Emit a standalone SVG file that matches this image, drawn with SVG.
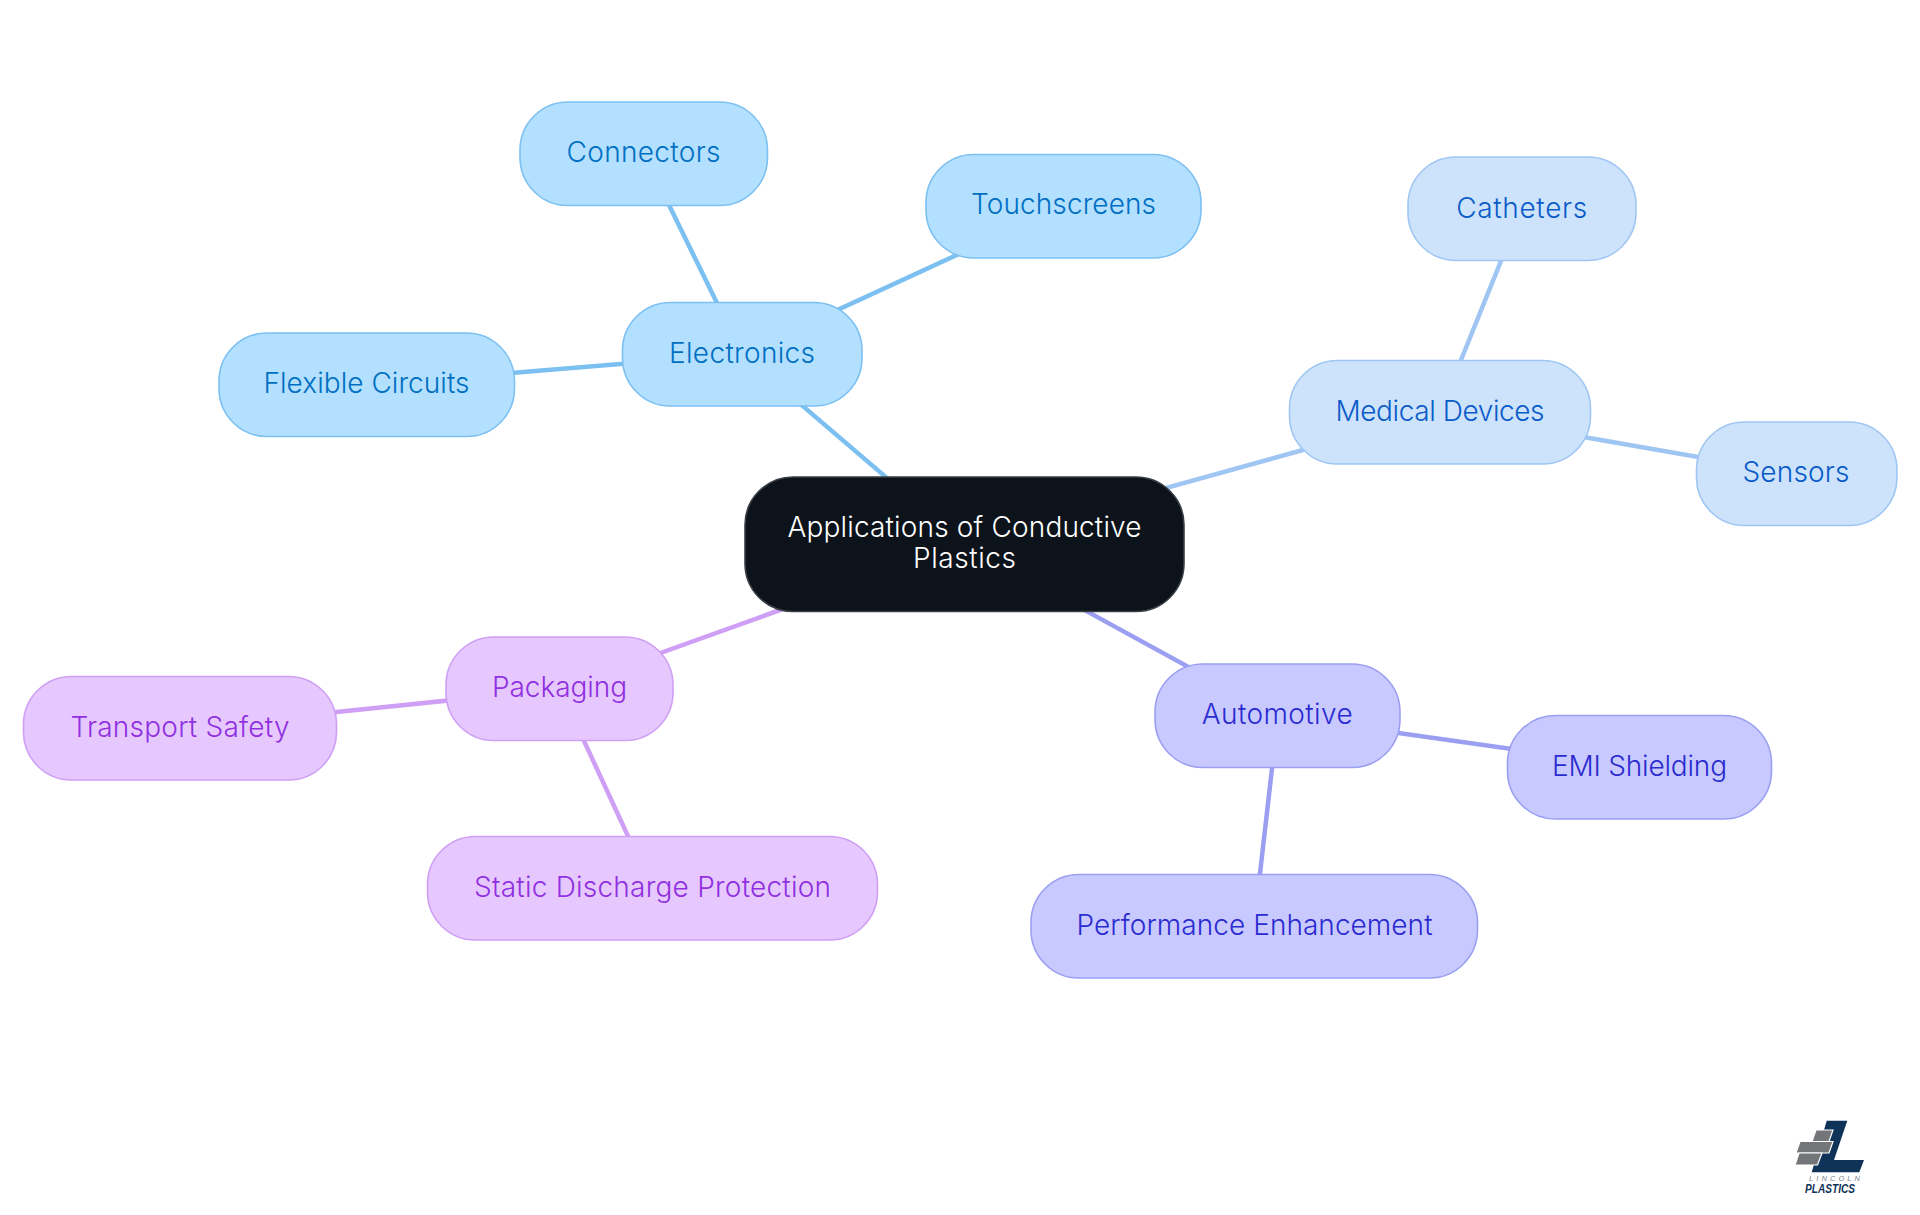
<svg xmlns="http://www.w3.org/2000/svg" width="1920" height="1215" viewBox="0 0 1920 1215">
<style>
text{font-family:"Inter","Noto Sans","Liberation Sans",sans-serif;font-size:28px;font-weight:300;text-anchor:middle}
rect{stroke-width:1.6}
.c line{stroke-width:4.500;fill:none}
.e rect{fill:#b3e0ff;stroke:#7cc0f2}.e text{fill:#006fc2}
.m rect{fill:#cde3fc;stroke:#9fc6f3}.m text{fill:#0a5bc8}
.a rect{fill:#c8caff;stroke:#9b9ff2}.a text{fill:#2b2bd0}
.p rect{fill:#e6c8ff;stroke:#cf9ff5}.p text{fill:#9030e0}
</style>
<rect width="1920" height="1215" fill="#fff" stroke="none"/>
<g id="connectors" class="c">
<g stroke="#7cc0f2"><line x1="742" y1="354" x2="964" y2="544"/><line x1="644" y1="154" x2="742" y2="354"/><line x1="1063" y1="206" x2="742" y2="354"/><line x1="366" y1="385" x2="742" y2="354"/></g>
<g stroke="#9fc6f3"><line x1="1440" y1="412" x2="964" y2="544"/><line x1="1522" y1="209" x2="1440" y2="412"/><line x1="1796" y1="474" x2="1440" y2="412"/></g>
<g stroke="#9b9ff2"><line x1="1278" y1="716" x2="964" y2="544"/><line x1="1639" y1="767" x2="1278" y2="716"/><line x1="1254" y1="926" x2="1278" y2="716"/></g>
<g stroke="#cf9ff5"><line x1="560" y1="689" x2="964" y2="544"/><line x1="180" y1="728" x2="560" y2="689"/><line x1="652" y1="888" x2="560" y2="689"/></g>
</g>
<g id="root"><rect x="745" y="477" width="439" height="134.500" rx="48" fill="#0d131b" stroke="#3a3f45"/><text x="964.500" y="537" fill="#fff" textLength="354">Applications of Conductive</text><text x="964.500" y="568" fill="#fff" textLength="103">Plastics</text></g>
<g id="electronics" class="e"><rect x="622.500" y="302.500" width="239.500" height="103.500" rx="48"/><text x="742" y="362.700" textLength="146">Electronics</text></g>
<g id="connectors-node" class="e"><rect x="520" y="102" width="247.500" height="103.500" rx="48"/><text x="643.500" y="162.200" textLength="154">Connectors</text></g>
<g id="touchscreens" class="e"><rect x="926" y="154.500" width="275" height="103.500" rx="48"/><text x="1063.500" y="214.200" textLength="185">Touchscreens</text></g>
<g id="flexible-circuits" class="e"><rect x="219" y="333" width="295.500" height="103.500" rx="48"/><text x="366.500" y="393.200" textLength="206">Flexible Circuits</text></g>
<g id="medical-devices" class="m"><rect x="1289.500" y="360.500" width="301" height="103.500" rx="48"/><text x="1440" y="421" textLength="209">Medical Devices</text></g>
<g id="catheters" class="m"><rect x="1408" y="157" width="228" height="103.500" rx="48"/><text x="1521.700" y="217.500" textLength="131">Catheters</text></g>
<g id="sensors" class="m"><rect x="1696.500" y="422" width="200.500" height="103.500" rx="48"/><text x="1796" y="482.200" textLength="107">Sensors</text></g>
<g id="automotive" class="a"><rect x="1155" y="664" width="245" height="103.500" rx="48"/><text x="1277.200" y="724.200" textLength="151">Automotive</text></g>
<g id="emi-shielding" class="a"><rect x="1507.500" y="715.500" width="264" height="103.500" rx="48"/><text x="1639.500" y="775.700" textLength="175">EMI Shielding</text></g>
<g id="performance-enhancement" class="a"><rect x="1031" y="874.500" width="446.500" height="103.500" rx="48"/><text x="1254.500" y="934.500" textLength="356">Performance Enhancement</text></g>
<g id="packaging" class="p"><rect x="446" y="637" width="227" height="103.500" rx="48"/><text x="559.500" y="697.200" textLength="135">Packaging</text></g>
<g id="transport-safety" class="p"><rect x="23.500" y="676.500" width="313" height="103.500" rx="48"/><text x="180" y="736.700" textLength="219">Transport Safety</text></g>
<g id="static-discharge-protection" class="p"><rect x="427.500" y="836.500" width="450" height="103.500" rx="48"/><text x="652.500" y="896.700" textLength="357">Static Discharge Protection</text></g>
<g id="logo">
<polygon points="1826.700,1120.700 1847.300,1120.700 1834,1160 1864,1160 1859.300,1172.300 1811.700,1172.300" fill="#0f3358"/>
<g fill="#737578" stroke="#fff" stroke-width="1.200"><polygon points="1816,1130 1833,1130 1829,1141.500 1812,1141.500"/><polygon points="1800,1141.500 1833,1141.500 1829,1153 1796,1153"/><polygon points="1799,1153 1822,1153 1817.500,1165 1795,1165"/></g>
<text x="1809" y="1181.300" fill="#7d858e" textLength="51" style="font-family:'Liberation Sans',sans-serif;font-size:7.500px;font-weight:400;font-style:italic;text-anchor:start">LINCOLN</text>
<text x="1805" y="1193" fill="#0f3358" textLength="50" lengthAdjust="spacingAndGlyphs" style="font-family:'Liberation Sans',sans-serif;font-size:12.500px;font-weight:700;font-style:italic;text-anchor:start">PLASTICS</text>
</g>
</svg>
